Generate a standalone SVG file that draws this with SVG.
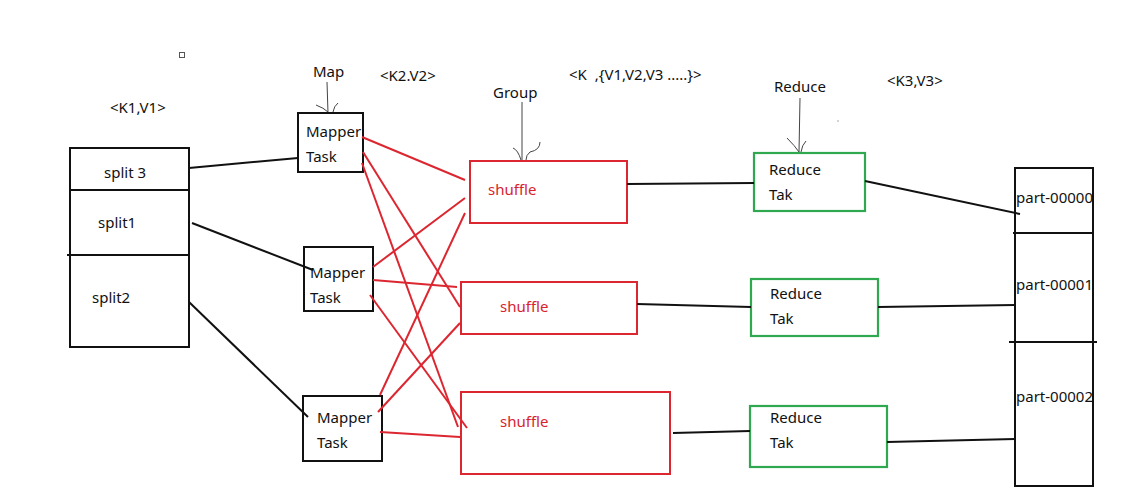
<svg xmlns="http://www.w3.org/2000/svg" width="1127" height="500" viewBox="0 0 1127 500">
<style>
text{font-family:"Noto Sans","Open Sans","Liberation Sans",sans-serif;font-size:15px;fill:#111}
.box{fill:none;stroke:#111;stroke-width:2}
.rbox{fill:none;stroke:#dc2630;stroke-width:2}
.gbox{fill:none;stroke:#2fa84f;stroke-width:2.2}
.rt{fill:#d8232d}
.bl{stroke:#111;stroke-width:2;fill:none}
.rl{stroke:#dc2630;stroke-width:2;fill:none}
.ar{stroke:#444;stroke-width:1;fill:none}
</style>
<rect width="1127" height="500" fill="#fff"/>
<rect x="179.5" y="52.5" width="5" height="5" fill="none" stroke="#555" stroke-width="1"/>
<circle cx="838" cy="121" r="0.7" fill="#888"/>
<g id="labels">
<text x="110" y="113">&lt;K1,V1&gt;</text>
<text x="313" y="77">Map</text>
<text x="380" y="81">&lt;K2.V2&gt;</text>
<text x="493" y="98">Group</text>
<text x="569" y="80" xml:space="preserve">&lt;K  ,{V1,V2,V3 .....}&gt;</text>
<text x="774" y="92">Reduce</text>
<text x="887" y="86">&lt;K3,V3&gt;</text>
</g>
<g id="annotation-arrows">
<path class="ar" d="M327 82 L328 113 M316 105 Q324 108 328 112 M338 103 Q334 106 333 112"/>
<path class="ar" d="M522 102 L522 160 M513 148 Q518 150 521 160 M540 142 Q540 150 530 152 Q526 155 526 160"/>
<path class="ar" d="M800 98 L799 152 M787 138 Q795 146 799 152 M806 141 Q802 145 801 152"/>
</g>
<g id="splits">
<rect class="box" x="70" y="148" width="119" height="199"/>
<line class="bl" x1="70" y1="190" x2="190" y2="190"/>
<line class="bl" x1="67" y1="255" x2="189" y2="255"/>
<text x="104" y="178">split 3</text>
<text x="98" y="228">split1</text>
<text x="92" y="303">split2</text>
</g>
<g id="mapper1">
<rect class="box" x="298" y="113" width="65" height="59"/>
<text x="306" y="137">Mapper</text>
<text x="306" y="162">Task</text>
</g>
<g id="mapper2">
<rect class="box" x="304" y="247" width="69" height="64"/>
<text x="310" y="278">Mapper</text>
<text x="310" y="303">Task</text>
</g>
<g id="mapper3">
<rect class="box" x="303" y="396" width="79" height="65"/>
<text x="317" y="423">Mapper</text>
<text x="317" y="448">Task</text>
</g>
<g id="shuffle1">
<rect class="rbox" x="470" y="161" width="157" height="62"/>
<text class="rt" x="488" y="195">shuffle</text>
</g>
<g id="shuffle2">
<rect class="rbox" x="461" y="282" width="176" height="52"/>
<text class="rt" x="500" y="312">shuffle</text>
</g>
<g id="shuffle3">
<rect class="rbox" x="461" y="392" width="209" height="82"/>
<text class="rt" x="500" y="427">shuffle</text>
</g>
<g id="reduce1">
<rect class="gbox" x="754" y="153" width="111" height="58"/>
<text x="769" y="175">Reduce</text>
<text x="769" y="200">Tak</text>
</g>
<g id="reduce2">
<rect class="gbox" x="751" y="279" width="127" height="57"/>
<text x="770" y="299">Reduce</text>
<text x="770" y="324">Tak</text>
</g>
<g id="reduce3">
<rect class="gbox" x="750" y="406" width="137" height="61"/>
<text x="770" y="423">Reduce</text>
<text x="770" y="448">Tak</text>
</g>
<g id="parts">
<rect class="box" x="1015" y="168" width="78" height="318"/>
<line class="bl" x1="1013" y1="233" x2="1093" y2="233"/>
<line class="bl" x1="1009" y1="342" x2="1097" y2="342"/>
<text x="1016" y="203">part-00000</text>
<text x="1016" y="290">part-00001</text>
<text x="1016" y="402">part-00002</text>
</g>
<g id="connectors">
<line class="bl" x1="189" y1="168" x2="298" y2="158"/>
<line class="bl" x1="192" y1="223" x2="313" y2="270"/>
<line class="bl" x1="189" y1="302" x2="308" y2="417"/>
<line class="bl" x1="627" y1="184" x2="754" y2="183"/>
<line class="bl" x1="637" y1="304" x2="751" y2="307"/>
<line class="bl" x1="673" y1="433" x2="750" y2="431"/>
<line class="bl" x1="865" y1="181" x2="1020" y2="214"/>
<line class="bl" x1="878" y1="307" x2="1015" y2="305"/>
<line class="bl" x1="887" y1="442" x2="1015" y2="439"/>
<line class="rl" x1="362" y1="137" x2="465" y2="180"/>
<line class="rl" x1="363" y1="152" x2="460" y2="307"/>
<line class="rl" x1="362" y1="163" x2="458" y2="427"/>
<line class="rl" x1="373" y1="267" x2="465" y2="198"/>
<line class="rl" x1="373" y1="280" x2="457" y2="287"/>
<line class="rl" x1="370" y1="295" x2="467" y2="428"/>
<line class="rl" x1="380" y1="395" x2="465" y2="213"/>
<line class="rl" x1="378" y1="412" x2="460" y2="323"/>
<line class="rl" x1="380" y1="432" x2="460" y2="437"/>
</g>
</svg>
